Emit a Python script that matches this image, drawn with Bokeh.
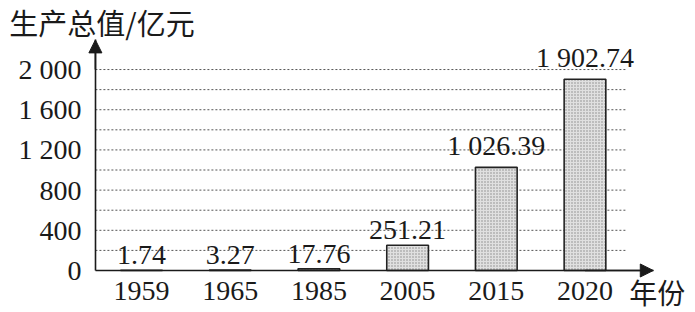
from bokeh.plotting import figure
from bokeh.models import ColumnDataSource, Range1d, FixedTicker, Label, Arrow, NormalHead
from bokeh.core.properties import value
from bokeh.embed import file_html
from bokeh.resources import INLINE

years = ["1959", "1965", "1985", "2005", "2015", "2020"]
values = [1.74, 3.27, 17.76, 251.21, 1026.39, 1902.74]
value_labels = ["1.74", "3.27", "17.76", "251.21", "1 026.39", "1 902.74"]
y_ticks = [0, 400, 800, 1200, 1600, 2000]
y_tick_labels = ["0", "400", "800", "1 200", "1 600", "2 000"]
grid_values = [200, 400, 600, 800, 1000, 1200, 1400, 1600, 1800, 2000]
y_title = "生产总值/亿元"
x_title = "年份"

SERIF = "Liberation Serif"
CJK = "Noto Sans CJK SC"
INK = "#1a1a1a"

xs = list(range(len(years)))
# the frame covers the whole canvas; axes are pinned inside it
x_lo, x_hi = -1.59, 6.246
y_lo, y_hi = -418, 2687
axis_x = -0.52          # where the value axis crosses
axis_x_end = len(years) - 0.23
axis_y_end = 2295
grid_x_end = len(years) - 0.53

p = figure(width=695, height=312, output_backend="svg", toolbar_location=None,
           x_range=Range1d(x_lo, x_hi), y_range=Range1d(y_lo, y_hi),
           min_border=0)
p.outline_line_color = None
p.xgrid.visible = False
p.ygrid.visible = False
p.background_fill_color = "white"

# dotted grid lines
gsrc = ColumnDataSource(dict(x0=[axis_x] * len(grid_values), x1=[grid_x_end] * len(grid_values),
                             y=grid_values))
p.segment(x0="x0", y0="y", x1="x1", y1="y", source=gsrc, line_color="#555555",
          line_width=1, line_dash="2 2")

src = ColumnDataSource(dict(x=xs, top=values, lab=value_labels))
p.vbar(x="x", top="top", width=0.47, source=src, fill_color="#e0e0e0",
       hatch_pattern="dot", hatch_color="#888888", hatch_scale=3, hatch_weight=0.6,
       line_color="#222222", line_width=1.6)
p.text(x="x", y="top", text="lab", source=src, text_font=value(SERIF), text_font_size="28px",
       text_align="center", text_baseline="bottom", y_offset=-6, text_color=INK)

# axes pinned at the origin
xa = p.xaxis[0]
ya = p.yaxis[0]
xa.fixed_location = 0
ya.fixed_location = axis_x
xa.bounds = (axis_x, axis_x_end)
ya.bounds = (0, axis_y_end)
xa.ticker = FixedTicker(ticks=xs)
xa.major_label_overrides = {i: y for i, y in enumerate(years)}
ya.ticker = FixedTicker(ticks=y_ticks)
ya.major_label_overrides = {t: l for t, l in zip(y_ticks, y_tick_labels)}
for ax in (xa, ya):
    ax.axis_line_color = INK
    ax.axis_line_width = 1.6
    ax.major_tick_line_color = None
    ax.minor_tick_line_color = None
    ax.major_label_text_font = SERIF
    ax.major_label_text_font_size = "28px"
    ax.major_label_text_color = INK
    ax.major_label_standoff = 8
xa.major_label_standoff = 6

# axis arrows
p.add_layout(Arrow(end=NormalHead(size=13, fill_color=INK, line_color=INK),
                   x_start=axis_x, y_start=2000, x_end=axis_x, y_end=axis_y_end,
                   line_color=INK, line_width=1.6))
p.add_layout(Arrow(end=NormalHead(size=13, fill_color=INK, line_color=INK),
                   x_start=5.0, y_start=0, x_end=axis_x_end, y_end=0,
                   line_color=INK, line_width=1.6))

# axis titles
p.add_layout(Label(x=-1.49, y=2687, text=y_title, text_font=CJK, text_font_size="29px",
                   text_baseline="top", text_color=INK))
p.add_layout(Label(x=5.5, y=-218, text=x_title, text_font=CJK, text_font_size="28px",
                   text_baseline="middle", text_color=INK))

open("out.html", "w").write(file_html(p, INLINE))
